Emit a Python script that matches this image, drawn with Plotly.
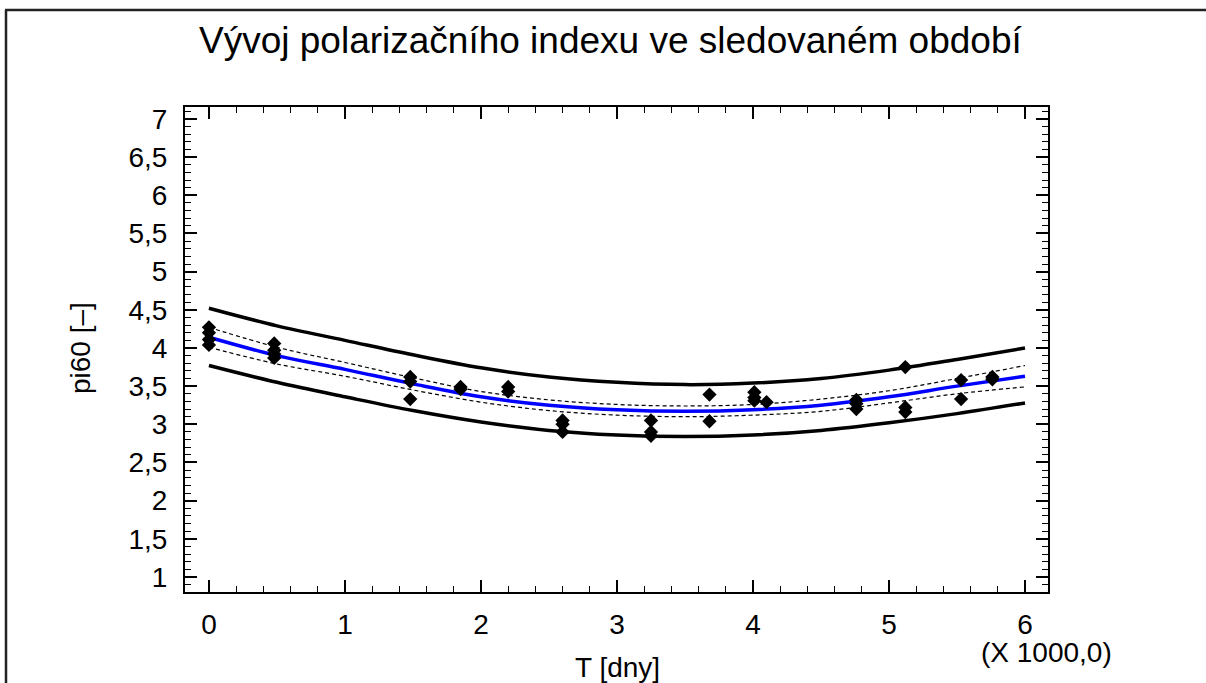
import plotly.graph_objects as go

# ---- data (days) ----
obs_t = [0, 0, 0, 0,
         480, 480, 480, 480,
         1480, 1480, 1480,
         1850, 1850,
         2200, 2200,
         2600, 2600, 2600,
         3250, 3250, 3250,
         3680, 3680,
         4010, 4010, 4010, 4100,
         4760, 4760, 4760,
         5120, 5120, 5120,
         5530, 5530,
         5760, 5760]
obs_pi = [4.27, 4.2, 4.11, 4.04,
          4.06, 3.97, 3.92, 3.87,
          3.62, 3.56, 3.33,
          3.49, 3.46,
          3.49, 3.43,
          3.05, 3.0, 2.9,
          3.05, 2.9, 2.85,
          3.39, 3.04,
          3.42, 3.35, 3.31, 3.29,
          3.32, 3.27, 3.2,
          3.75, 3.22, 3.16,
          3.58, 3.33,
          3.62, 3.59]

grid_t = [0, 500, 1000, 1500, 2000, 2500, 3000, 3500, 4000, 4500, 5000, 5500, 6000]
fit = [4.14, 3.9, 3.72, 3.53, 3.36, 3.25, 3.19, 3.17, 3.19, 3.25, 3.36, 3.5, 3.63]
conf_up = [4.27, 4.01, 3.81, 3.61, 3.43, 3.32, 3.26, 3.24, 3.26, 3.33, 3.44, 3.6, 3.77]
conf_lo = [4.01, 3.79, 3.63, 3.45, 3.29, 3.18, 3.12, 3.10, 3.12, 3.17, 3.28, 3.4, 3.49]
pred_up = [4.52, 4.29, 4.1, 3.91, 3.74, 3.62, 3.55, 3.52, 3.54, 3.6, 3.71, 3.85, 4.0]
pred_lo = [3.77, 3.55, 3.36, 3.18, 3.03, 2.92, 2.86, 2.84, 2.86, 2.92, 3.02, 3.14, 3.28]

x_tickvals = [0, 1000, 2000, 3000, 4000, 5000, 6000]
x_ticktext = ["0", "1", "2", "3", "4", "5", "6"]
y_tickvals = [1, 1.5, 2, 2.5, 3, 3.5, 4, 4.5, 5, 5.5, 6, 6.5, 7]

FONT = "Liberation Sans, Arial, sans-serif"

fig = go.Figure()
for ys in (pred_up, pred_lo):
    fig.add_trace(go.Scatter(x=grid_t, y=ys, mode="lines", line=dict(color="black", width=3.5, shape="spline"),
                             showlegend=False, hoverinfo="skip"))
for ys in (conf_up, conf_lo):
    fig.add_trace(go.Scatter(x=grid_t, y=ys, mode="lines", line=dict(color="black", width=1.2, dash="4px,3px", shape="spline"),
                             showlegend=False, hoverinfo="skip"))
fig.add_trace(go.Scatter(x=grid_t, y=fit, mode="lines", line=dict(color="#0000ff", width=3.5, shape="spline"),
                         showlegend=False))
fig.add_trace(go.Scatter(x=obs_t, y=obs_pi, mode="markers",
                         marker=dict(symbol="diamond", size=11, color="black"), showlegend=False))

W, H = 1206, 683
L, R, T, B = 185, 1048, 107, 592
pw, ph = R - L, B - T

def px(x):
    return (x - L) / pw

def py(y):
    return (B - y) / ph

TICKSIZE = 28
axis_common = dict(showgrid=False, zeroline=False, showline=True, linecolor="black", linewidth=2,
                   mirror="ticks", ticks="inside", tickcolor="black", tickwidth=1.5, ticklen=12,
                   tickfont=dict(family=FONT, size=TICKSIZE, color="black"))

fig.update_layout(
    width=W, height=H,
    margin=dict(l=L, r=W - R, t=T, b=H - B),
    paper_bgcolor="white", plot_bgcolor="white",
    separators=",.",
    xaxis=dict(range=[-176, 6169], tickvals=x_tickvals, ticktext=x_ticktext, ticklabelstandoff=6,
               minor=dict(dtick=200, tick0=0, ticks="inside", ticklen=6, tickcolor="black", tickwidth=1.2),
               **axis_common),
    yaxis=dict(range=[0.803, 7.157], tickvals=y_tickvals, ticklabelstandoff=10,
               minor=dict(dtick=0.1, tick0=0, ticks="inside", ticklen=6, tickcolor="black", tickwidth=1.2),
               **axis_common),
    annotations=[
        dict(text="Vývoj polarizačního indexu ve sledovaném období", xref="paper", yref="paper",
             x=px(610), y=py(40), xanchor="center", yanchor="middle", showarrow=False,
             font=dict(family=FONT, size=37, color="black")),
        dict(text="(X 1000,0)", xref="paper", yref="paper", x=px(1046), y=py(652),
             xanchor="center", yanchor="middle", showarrow=False,
             font=dict(family=FONT, size=TICKSIZE, color="black")),
        dict(text="T [dny]", xref="paper", yref="paper", x=px(617), y=py(667),
             xanchor="center", yanchor="middle", showarrow=False,
             font=dict(family=FONT, size=TICKSIZE, color="black")),
        dict(text="pi60 [–]", xref="paper", yref="paper", x=px(80), y=py(348), textangle=-90,
             xanchor="center", yanchor="middle", showarrow=False,
             font=dict(family=FONT, size=TICKSIZE, color="black")),
    ],
    shapes=[
        dict(type="line", xref="paper", yref="paper", x0=px(6), y0=py(700), x1=px(6), y1=py(10),
             line=dict(color="#222", width=2.5)),
        dict(type="line", xref="paper", yref="paper", x0=px(5), y0=py(10), x1=px(1210), y1=py(10),
             line=dict(color="#222", width=2.5)),
    ],
)

fig.write_html("out.html", config={"displayModeBar": False},
               post_script="document.body.style.margin='0';document.body.style.overflow='hidden';")
